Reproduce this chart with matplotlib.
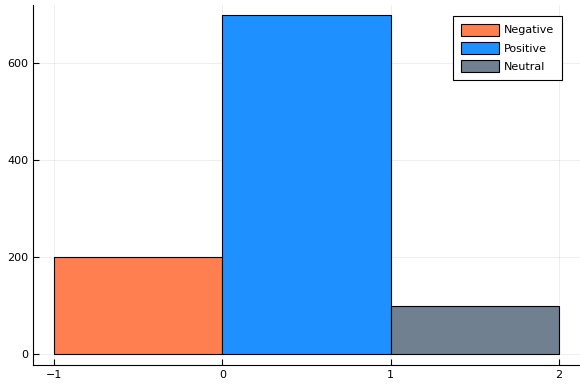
import matplotlib
matplotlib.use("Agg")
import matplotlib.pyplot as plt

labels = ["Negative", "Positive", "Neutral"]
left_edges = [-1, 0, 1]
counts = [200, 700, 100]
colors = ["#FF7F50", "#1E90FF", "#708090"]
xticks = [-1, 0, 1, 2]
yticks = [0, 200, 400, 600]

fig = plt.figure(figsize=(5.8, 3.88), dpi=100)
ax = fig.add_axes([0.057, 0.059, 0.943, 0.928])

for x0, h, c, lab in zip(left_edges, counts, colors, labels):
    ax.bar(x0, h, width=1, align="edge", color=c, edgecolor="black",
           linewidth=0.8, label=lab, zorder=2)

ax.set_xlim(-1.125, 2.125)
ax.set_ylim(-22, 720)
ax.set_xticks(xticks)
ax.set_xticklabels(["\u22121", "0", "1", "2"])
ax.set_yticks(yticks)
ax.tick_params(direction="in", length=4, width=0.8, labelsize=8, colors="black")
ax.grid(True, color="black", alpha=0.08, linewidth=0.6, zorder=0)
ax.set_axisbelow(True)
for side in ("top", "right"):
    ax.spines[side].set_visible(False)
for side in ("left", "bottom"):
    ax.spines[side].set_linewidth(0.8)

leg = ax.legend(loc="upper right", bbox_to_anchor=(0.967, 0.97), fontsize=8,
                fancybox=False, framealpha=1, edgecolor="black",
                handlelength=3.4, handleheight=1.3, borderpad=0.7,
                labelspacing=0.55, handletextpad=0.45, borderaxespad=0)
leg.get_frame().set_linewidth(0.8)

fig.savefig("out.png", dpi=100)
